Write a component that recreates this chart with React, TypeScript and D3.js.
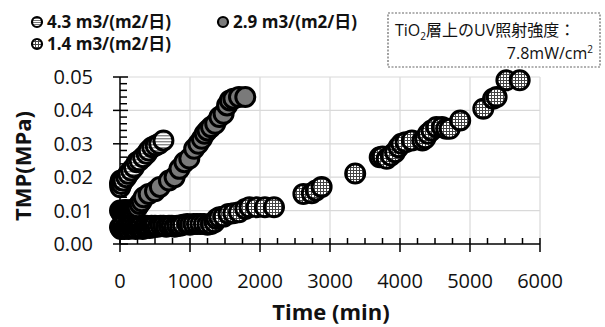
import React from "react";
import * as d3 from "d3";

const seriesNames = ["4.3 m3/(m2/日)", "2.9 m3/(m2/日)", "1.4 m3/(m2/日)"];

const s43: [number, number][] = [
  [0, 0.018], [5, 0.017], [10, 0.019], [20, 0.018], [35, 0.019], [50, 0.019],
  [90, 0.02], [120, 0.021], [160, 0.022], [200, 0.023],
  [240, 0.0245], [280, 0.025], [330, 0.026], [380, 0.027],
  [410, 0.028], [460, 0.029], [510, 0.0295], [560, 0.030], [620, 0.031],
];

const s29: [number, number][] = [
  [0, 0.010], [15, 0.0095], [30, 0.010], [45, 0.0098], [60, 0.010], [80, 0.0102], [100, 0.010],
  [125, 0.0098], [150, 0.010], [175, 0.0102], [200, 0.010], [225, 0.0105],
  [250, 0.011], [280, 0.012], [310, 0.0128], [340, 0.014],
  [410, 0.015], [500, 0.0158], [570, 0.0171],
  [700, 0.019], [780, 0.020], [850, 0.0225],
  [920, 0.0245], [990, 0.0256], [1060, 0.0285],
  [1120, 0.030], [1170, 0.0315], [1210, 0.033], [1250, 0.034],
  [1300, 0.035], [1360, 0.036],
  [1420, 0.038], [1480, 0.039], [1530, 0.0415], [1570, 0.043], [1620, 0.0435],
  [1700, 0.044], [1790, 0.044],
];

const s14: [number, number][] = [
  [0, 0.005], [15, 0.0045], [30, 0.005], [45, 0.0055], [60, 0.0045], [80, 0.005], [100, 0.005],
  [125, 0.0045], [150, 0.005], [175, 0.0055], [200, 0.005], [225, 0.0045], [250, 0.005],
  [275, 0.0048], [300, 0.0052], [325, 0.0045], [350, 0.005], [375, 0.0055], [400, 0.005],
  [425, 0.0048], [450, 0.0055], [475, 0.005], [500, 0.0055], [540, 0.0052], [580, 0.0055],
  [620, 0.0055], [660, 0.0052], [700, 0.0055], [740, 0.0055], [780, 0.0052], [820, 0.0055],
  [860, 0.0055], [900, 0.0058], [960, 0.006], [1000, 0.0058], [1050, 0.006], [1100, 0.006],
  [1150, 0.006], [1200, 0.006], [1250, 0.0058], [1300, 0.006], [1350, 0.0065], [1380, 0.0075],
  [1420, 0.008], [1480, 0.0082],
  [1550, 0.009], [1620, 0.0092], [1700, 0.0095],
  [1790, 0.0105], [1850, 0.011], [1950, 0.011],
  [2070, 0.011], [2200, 0.011], [2620, 0.015],
  [2740, 0.0152], [2800, 0.016], [2880, 0.0171],
  [3360, 0.0211], [3710, 0.026], [3750, 0.0262], [3810, 0.0255], [3870, 0.0265], [3930, 0.0275],
  [3980, 0.029], [4020, 0.030], [4080, 0.0305], [4170, 0.031], [4320, 0.031],
  [4360, 0.0316], [4400, 0.033], [4450, 0.034], [4520, 0.035], [4600, 0.035], [4660, 0.0345],
  [4710, 0.0345], [4860, 0.037], [5190, 0.0405], [5330, 0.0435], [5380, 0.044], [5520, 0.049],
  [5710, 0.049],
];

const xTicks = [0, 1000, 2000, 3000, 4000, 5000, 6000];
const yTicks = [0, 0.01, 0.02, 0.03, 0.04, 0.05];

const W = 605;
const H = 327;
const left = 120, right = 540, top = 77, bottom = 244;

export default function App() {
  const x = d3.scaleLinear().domain([0, 6000]).range([left, right]);
  const y = d3.scaleLinear().domain([0, 0.05]).range([bottom, top]);
  const xMinor = d3.range(0, 6001, 250).filter((v) => v % 1000 !== 0);
  const yMinor = d3.range(0, 51, 2).map((v) => v / 1000).filter((v, i) => (i * 2) % 10 !== 0);
  const fills = ["url(#stripes)", "#7a7a7a", "url(#checks)"];
  const series = [s43, s29, s14];
  const font = "'Open Sans', 'Noto Sans CJK JP', sans-serif";
  const r = 9.5;

  return (
    <svg width={W} height={H} style={{ position: "absolute", left: 0, top: 0, background: "#fff" }}
      fontFamily={font}>
      <defs>
        <pattern id="stripes" width="4" height="3" patternUnits="userSpaceOnUse">
          <rect width="4" height="3" fill="#fff" />
          <rect y="0" width="4" height="1.4" fill="#888" />
        </pattern>
        <pattern id="checks" width="3" height="3" patternUnits="userSpaceOnUse">
          <rect width="3" height="3" fill="#444" />
          <rect x="0" y="0" width="2" height="2" fill="#fff" />
        </pattern>
        <pattern id="stripesS" width="3" height="2" patternUnits="userSpaceOnUse">
          <rect width="3" height="2" fill="#fff" />
          <rect y="0" width="3" height="1" fill="#777" />
        </pattern>
      </defs>
      {/* gridlines */}
      {xTicks.slice(1).map((t) => (
        <line key={"gx" + t} x1={x(t)} x2={x(t)} y1={top} y2={bottom} stroke="#d9d9d9" strokeWidth={1.2} />
      ))}
      {yTicks.slice(1).map((t) => (
        <line key={"gy" + t} x1={left} x2={right} y1={y(t)} y2={y(t)} stroke="#d9d9d9" strokeWidth={1.2} />
      ))}
      {/* axes */}
      <line x1={left} x2={right} y1={bottom} y2={bottom} stroke="#000" strokeWidth={1.5} />
      <line x1={left} x2={left} y1={top} y2={bottom} stroke="#000" strokeWidth={1.5} />
      {xTicks.map((t) => (
        <line key={"xt" + t} x1={x(t)} x2={x(t)} y1={bottom - 6} y2={bottom + 8} stroke="#000" strokeWidth={1.5} />
      ))}
      {xMinor.map((t) => (
        <line key={"xm" + t} x1={x(t)} x2={x(t)} y1={bottom - 6} y2={bottom} stroke="#000" strokeWidth={1.5} />
      ))}
      {yTicks.map((t) => (
        <line key={"yt" + t} x1={left - 7} x2={left + 8} y1={y(t)} y2={y(t)} stroke="#000" strokeWidth={1.5} />
      ))}
      {yMinor.map((t) => (
        <line key={"ym" + t} x1={left} x2={left + 7} y1={y(t)} y2={y(t)} stroke="#000" strokeWidth={1.5} />
      ))}
      {/* tick labels */}
      {xTicks.map((t) => (
        <text key={"xl" + t} x={x(t)} y={288} textAnchor="middle" fontSize={20} fill="#111">{t}</text>
      ))}
      {yTicks.map((t) => (
        <text key={"yl" + t} x={93} y={y(t) + 7} textAnchor="end" fontSize={20} fill="#111">{t.toFixed(2)}</text>
      ))}
      {/* axis titles */}
      <text x={331} y={320} textAnchor="middle" fontSize={22} fontWeight="bold" fill="#111">Time (min)</text>
      <text transform="translate(31,166) rotate(-90)" textAnchor="middle" fontSize={22} fontWeight="bold" fill="#111">TMP(MPa)</text>
      {/* points */}
      {series.map((s, i) => (
        <g key={"s" + i}>
          {s.map(([t, v], j) => (
            <circle key={j} cx={x(t)} cy={y(v)} r={r} fill={fills[i]} stroke="#000" strokeWidth={3} />
          ))}
        </g>
      ))}
      {/* legend */}
      {[[37, 22], [223, 22], [37, 44]].map(([lx, ly], i) => (
        <g key={"lg" + i}>
          <circle cx={lx} cy={ly} r={5} fill={i === 0 ? "url(#stripesS)" : fills[i]} stroke="#000" strokeWidth={2.2} />
          <text x={lx + 10} y={ly + 6} fontSize={17} fontWeight="bold" fill="#111">{seriesNames[i]}</text>
        </g>
      ))}
      {/* annotation box */}
      <rect x={388} y={13} width={212} height={54} fill="#fff" stroke="#666" strokeWidth={1.2} strokeDasharray="2,1.5" />
      <text x={395} y={36} fontSize={16} fill="#111">
        TiO<tspan fontSize={10} dy={4}>2</tspan><tspan dy={-4}>層上のUV照射強度：</tspan>
      </text>
      <text x={593} y={59} textAnchor="end" fontSize={16} fill="#111">
        7.8mW/cm<tspan fontSize={10} dy={-6}>2</tspan>
      </text>
    </svg>
  );
}
